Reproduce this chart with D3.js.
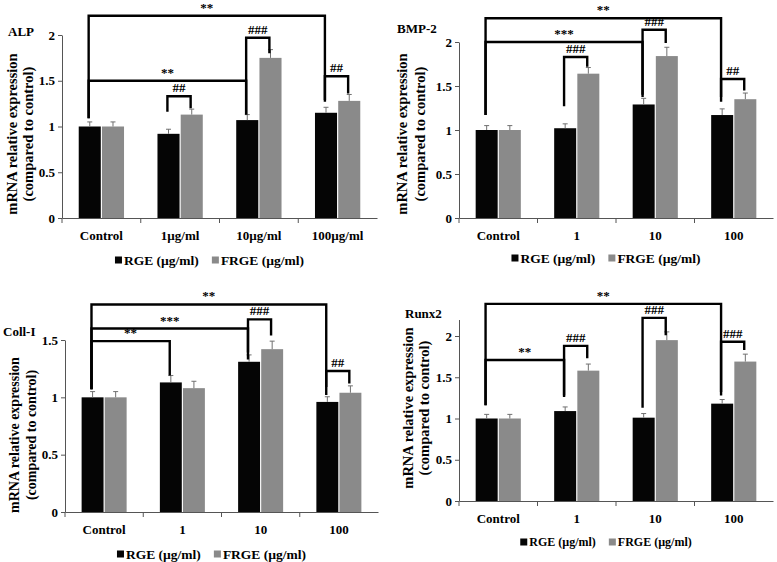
<!DOCTYPE html>
<html><head><meta charset="utf-8">
<script src="https://cdn.jsdelivr.net/npm/d3@7"></script>
<style>
html,body{margin:0;padding:0;background:#fff;}
svg text{font-family:"Liberation Serif","Times New Roman",serif;font-weight:bold;fill:#000;}
</style></head>
<body>
<svg id="chart" width="777" height="562"></svg>
<script>
// ---------------- DATA ----------------
const seriesNames = ["RGE (µg/ml)", "FRGE (µg/ml)"];
const yLabelLines = ["mRNA relative expression", "(compared to control)"];

const alpTitle = "ALP";
const alpCategories = ["Control", "1µg/ml", "10µg/ml", "100µg/ml"];
const alpRGE = [1.00, 0.92, 1.07, 1.15];
const alpRGEErr = [0.05, 0.05, 0.06, 0.06];
const alpFRGE = [1.00, 1.13, 1.75, 1.28];
const alpFRGEErr = [0.05, 0.06, 0.09, 0.07];
const alpTicks = [0, 0.5, 1, 1.5, 2];
// brackets: [group1, series1, group2, series2, level, end1, end2, label]
const alpBrackets = [
  [0, 0, 3, 0, 2.21, 1.09, 1.27, "**"],
  [0, 0, 2, 0, 1.50, 1.09, 1.13, "**"],
  [1, 0, 1, 1, 1.33, 1.16, 1.20, "##"],
  [2, 0, 2, 1, 1.97, 1.13, 1.80, "###"],
  [3, 0, 3, 1, 1.55, 1.29, 1.36, "##"]
];

const bmpTitle = "BMP-2";
const doseCategories = ["Control", "1", "10", "100"];
const bmpRGE = [1.00, 1.02, 1.29, 1.17];
const bmpRGEErr = [0.05, 0.05, 0.07, 0.07];
const bmpFRGE = [1.00, 1.64, 1.84, 1.35];
const bmpFRGEErr = [0.05, 0.07, 0.10, 0.07];
const bmpTicks = [0, 0.5, 1, 1.5, 2];
const bmpBrackets = [
  [0, 0, 3, 0, 2.27, 1.17, 1.32, "**"],
  [0, 0, 2, 0, 2.00, 1.17, 1.40, "***"],
  [1, 0, 1, 1, 1.83, 1.27, 1.72, "###"],
  [2, 0, 2, 1, 2.14, 1.375, 1.99, "###"],
  [3, 0, 3, 1, 1.58, 1.375, 1.45, "##"]
];

const collTitle = "Coll-I";
const collRGE = [1.00, 1.13, 1.31, 0.96];
const collRGEErr = [0.05, 0.06, 0.06, 0.045];
const collFRGE = [1.00, 1.08, 1.42, 1.04];
const collFRGEErr = [0.05, 0.06, 0.07, 0.06];
const collTicks = [0, 0.5, 1, 1.5];
const collBrackets = [
  [0, 0, 3, 0, 1.81, 1.07, 1.09, "**"],
  [0, 0, 2, 0, 1.60, 1.07, 1.33, "***"],
  [0, 0, 1, 0, 1.49, 1.07, 1.19, "**"],
  [2, 0, 2, 1, 1.68, 1.39, 1.54, "###"],
  [3, 0, 3, 1, 1.23, 1.02, 1.12, "##"]
];

const runxTitle = "Runx2";
const runxRGE = [1.00, 1.09, 1.01, 1.18];
const runxRGEErr = [0.05, 0.05, 0.05, 0.05];
const runxFRGE = [1.00, 1.58, 1.95, 1.69];
const runxFRGEErr = [0.05, 0.08, 0.10, 0.09];
const runxTicks = [0, 0.5, 1, 1.5, 2];
const runxBrackets = [
  [0, 0, 3, 0, 2.39, 1.16, 1.28, "**"],
  [0, 0, 1, 0, 1.71, 1.16, 1.28, "**"],
  [1, 0, 1, 1, 1.88, 1.26, 1.73, "###"],
  [2, 0, 2, 1, 2.22, 1.13, 2.01, "###"],
  [3, 0, 3, 1, 1.93, 1.32, 1.83, "###"]
];

// ---------------- LAYOUT ----------------
const panels = [
  {title: alpTitle, cats: alpCategories, vals: [alpRGE, alpFRGE], errs: [alpRGEErr, alpFRGEErr],
   ticks: alpTicks, ymax: 2, brackets: alpBrackets,
   x0: 62, x1: 377, y0: 218, yTop: 35,
   titleX: 8, titleY: 31, ylabX: [12, 28], ylabY: 134, ylabSize: 14.5, catY: 235, legY: 260, legSize: 13.5},
  {title: bmpTitle, cats: doseCategories, vals: [bmpRGE, bmpFRGE], errs: [bmpRGEErr, bmpFRGEErr],
   ticks: bmpTicks, ymax: 2, brackets: bmpBrackets,
   x0: 459, x1: 773, y0: 218, yTop: 42,
   titleX: 397, titleY: 28, ylabX: [402, 420], ylabY: 134, ylabSize: 14.5, catY: 235, legY: 258, legSize: 13.5},
  {title: collTitle, cats: doseCategories, vals: [collRGE, collFRGE], errs: [collRGEErr, collFRGEErr],
   ticks: collTicks, ymax: 1.5, brackets: collBrackets,
   x0: 65, x1: 378, y0: 512, yTop: 340,
   titleX: 3, titleY: 331, ylabX: [14, 31], ylabY: 435, ylabSize: 14, catY: 529, legY: 554, legSize: 13.5},
  {title: runxTitle, cats: doseCategories, vals: [runxRGE, runxFRGE], errs: [runxRGEErr, runxFRGEErr],
   ticks: runxTicks, ymax: 2.2, brackets: runxBrackets,
   x0: 459, x1: 773, y0: 501, yTop: 319.5,
   titleX: 405, titleY: 313, ylabX: [408, 424], ylabY: 408, ylabSize: 14.5, catY: 518, legY: 542, legSize: 12}
];
const colors = ["#050505", "#8a8a8a"];

const svg = d3.select("#chart");

function drawPanel(p) {
  const g = svg.append("g");
  const x = d3.scaleBand().domain(p.cats).range([p.x0, p.x1]).paddingInner(0).paddingOuter(0);
  const xs = d3.scaleBand().domain([0, 1]).range([0, x.bandwidth()]).paddingInner(0.05).paddingOuter(0.72);
  const y = d3.scaleLinear().domain([0, p.ymax]).range([p.y0, p.yTop]);

  // bars
  [0, 1].forEach(s => {
    const rows = p.cats.map((c, i) => ({c, v: p.vals[s][i], e: p.errs[s][i]}));
    g.append("g").selectAll("rect").data(rows).join("rect")
      .attr("x", d => x(d.c) + xs(s))
      .attr("y", d => y(d.v))
      .attr("width", xs.bandwidth())
      .attr("height", d => y(0) - y(d.v))
      .attr("fill", colors[s]);
    const eg = g.append("g").attr("stroke", "#707070").attr("stroke-width", 1);
    rows.forEach(d => {
      const cx = x(d.c) + xs(s) + xs.bandwidth() / 2;
      eg.append("line").attr("x1", cx).attr("x2", cx).attr("y1", y(d.v)).attr("y2", y(d.v + d.e));
      eg.append("line").attr("x1", cx - 2.5).attr("x2", cx + 2.5).attr("y1", y(d.v + d.e)).attr("y2", y(d.v + d.e));
    });
  });

  // y axis
  const ya = g.append("g").attr("transform", `translate(${p.x0},0)`)
    .call(d3.axisLeft(y).tickValues(p.ticks).tickSize(4).tickSizeOuter(0).tickPadding(3).tickFormat(d => String(d)));
  ya.selectAll("path,line").attr("stroke", "#555");
  ya.selectAll("text").attr("font-size", 13).attr("font-family", "Liberation Serif").attr("font-weight", "bold").attr("fill", "#000");

  // x axis
  const xa = g.append("g").attr("transform", `translate(0,${p.y0})`)
    .call(d3.axisBottom(x).tickSize(0).tickSizeOuter(0).tickFormat(() => ""));
  xa.selectAll("path").attr("stroke", "#555");
  const bounds = p.cats.map(c => x(c)).concat([p.x1]);
  g.append("g").selectAll("line").data(bounds.slice(0, 4)).join("line")
    .attr("x1", d => d).attr("x2", d => d).attr("y1", p.y0).attr("y2", p.y0 + 5)
    .attr("stroke", "#555");
  g.append("g").selectAll("text").data(p.cats).join("text")
    .attr("x", d => x(d) + x.bandwidth() / 2).attr("y", p.catY).attr("dy", "0.35em")
    .attr("text-anchor", "middle").attr("font-size", 13).text(d => d);

  // title
  g.append("text").attr("x", p.titleX).attr("y", p.titleY).attr("dy", "0.35em")
    .attr("font-size", 13).text(p.title);

  // y label
  yLabelLines.forEach((t, i) => {
    g.append("text").attr("transform", `translate(${p.ylabX[i] + 4.5},${p.ylabY}) rotate(-90)`)
      .attr("text-anchor", "middle").attr("font-size", p.ylabSize).text(t);
  });

  // brackets
  const legX = (gi, s) => x(p.cats[gi]) + xs(s) + xs.bandwidth() * 0.45;
  const bg = g.append("g");
  p.brackets.forEach(b => {
    const [g1, s1, g2, s2, lev, e1, e2, lab] = b;
    const xa1 = legX(g1, s1), xa2 = legX(g2, s2);
    bg.append("path")
      .attr("d", `M${xa1},${y(e1)}V${y(lev)}H${xa2}V${y(e2)}`)
      .attr("fill", "none").attr("stroke", "#000").attr("stroke-width", 2.4);
    bg.append("text").attr("x", (xa1 + xa2) / 2).attr("y", y(lev) - 4)
      .attr("text-anchor", "middle").attr("font-size", 13).text(lab);
  });

  // legend
  const leg = g.append("g");
  let cx = 0;
  const items = [];
  seriesNames.forEach((n, i) => {
    const r = leg.append("rect").attr("x", cx).attr("y", p.legY - 3.5).attr("width", 7).attr("height", 7).attr("fill", colors[i]);
    cx += 9;
    const t = leg.append("text").attr("x", cx).attr("y", p.legY).attr("dy", "0.35em")
      .attr("font-size", p.legSize).text(n);
    cx += t.node().getComputedTextLength() + 13;
  });
  const total = cx - 13;
  const center = (p.x0 + p.x1) / 2 - 10;
  leg.attr("transform", `translate(${center - total / 2},0)`);
}

panels.forEach(drawPanel);
</script>
</body></html>
